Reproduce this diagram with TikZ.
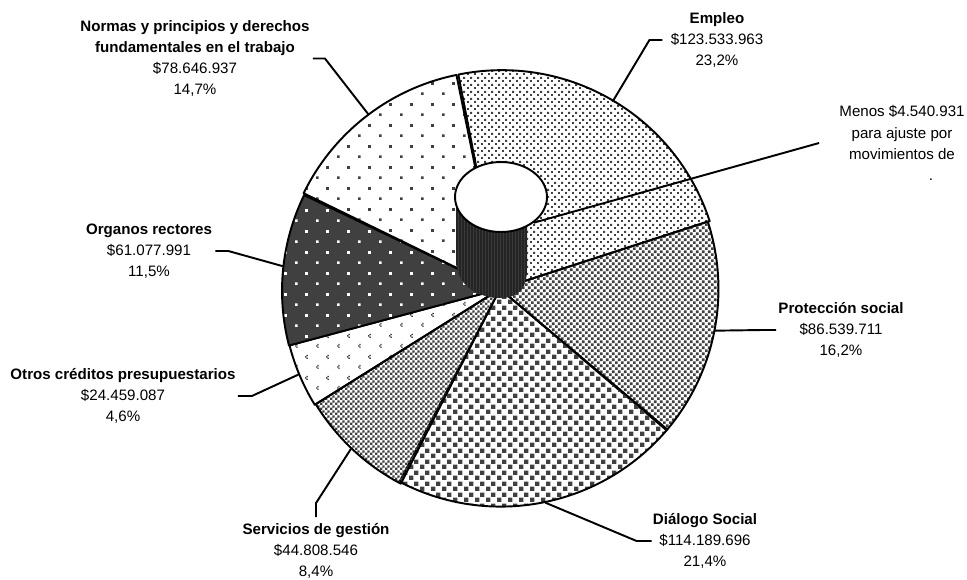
\documentclass[tikz,border=0pt]{standalone}
\usepackage{fontspec}
\setmainfont{Liberation Sans}
\usetikzlibrary{patterns,shapes.geometric}

\definecolor{gristrama}{HTML}{404040}
\definecolor{griscilindro}{HTML}{242424}
\definecolor{grisvetas}{HTML}{707070}

\pgfdeclarepatternformonly{puntos empleo}{\pgfpointorigin}{\pgfqpoint{3.8pt}{3.8pt}}{\pgfqpoint{3.8pt}{3.8pt}}{%
	\pgfpathrectangle{\pgfpointorigin}{\pgfqpoint{1.1pt}{1.1pt}}%
	\pgfpathrectangle{\pgfqpoint{1.9pt}{1.9pt}}{\pgfqpoint{1.1pt}{1.1pt}}%
	\pgfusepath{fill}}
\pgfdeclarepatternformonly{puntos ralos}{\pgfpointorigin}{\pgfqpoint{12pt}{12pt}}{\pgfqpoint{12pt}{12pt}}{%
	\pgfpathrectangle{\pgfpointorigin}{\pgfqpoint{1.6pt}{1.6pt}}%
	\pgfpathrectangle{\pgfqpoint{6pt}{6pt}}{\pgfqpoint{1.6pt}{1.6pt}}%
	\pgfusepath{fill}}
\pgfdeclarepatternformonly{marcas otros}{\pgfpointorigin}{\pgfqpoint{12pt}{12pt}}{\pgfqpoint{12pt}{12pt}}{%
	\pgfpathrectangle{\pgfqpoint{0.8pt}{0pt}}{\pgfqpoint{0.8pt}{0.8pt}}%
	\pgfpathrectangle{\pgfqpoint{0pt}{0.8pt}}{\pgfqpoint{0.8pt}{0.8pt}}%
	\pgfpathrectangle{\pgfqpoint{0.8pt}{1.6pt}}{\pgfqpoint{0.8pt}{0.8pt}}%
	\pgfpathrectangle{\pgfqpoint{6.8pt}{6pt}}{\pgfqpoint{0.8pt}{0.8pt}}%
	\pgfpathrectangle{\pgfqpoint{6pt}{6.8pt}}{\pgfqpoint{0.8pt}{0.8pt}}%
	\pgfpathrectangle{\pgfqpoint{6.8pt}{7.6pt}}{\pgfqpoint{0.8pt}{0.8pt}}%
	\pgfusepath{fill}}
\pgfdeclarepatternformonly{damero fino}{\pgfpointorigin}{\pgfqpoint{3pt}{3pt}}{\pgfqpoint{3pt}{3pt}}{%
	\pgfpathrectangle{\pgfpointorigin}{\pgfqpoint{1.5pt}{1.5pt}}%
	\pgfpathrectangle{\pgfqpoint{1.5pt}{1.5pt}}{\pgfqpoint{1.5pt}{1.5pt}}%
	\pgfusepath{fill}}
\pgfdeclarepatternformonly{damero claro}{\pgfpointorigin}{\pgfqpoint{3.4pt}{3.4pt}}{\pgfqpoint{3.4pt}{3.4pt}}{%
	\pgfpathrectangle{\pgfpointorigin}{\pgfqpoint{1.45pt}{1.45pt}}%
	\pgfpathrectangle{\pgfqpoint{1.7pt}{1.7pt}}{\pgfqpoint{1.45pt}{1.45pt}}%
	\pgfusepath{fill}}
\pgfdeclarepatternformonly{cuadros dialogo}{\pgfpointorigin}{\pgfqpoint{6.3pt}{6.3pt}}{\pgfqpoint{6.3pt}{6.3pt}}{%
	\pgfpathrectangle{\pgfpointorigin}{\pgfqpoint{2.7pt}{2.7pt}}%
	\pgfpathrectangle{\pgfqpoint{3.15pt}{3.15pt}}{\pgfqpoint{2.7pt}{2.7pt}}%
	\pgfusepath{fill}}
\pgfdeclarepatternformonly{vetas cilindro}{\pgfpointorigin}{\pgfqpoint{1.8pt}{1pt}}{\pgfqpoint{1.8pt}{1pt}}{%
	\pgfpathrectangle{\pgfpointorigin}{\pgfqpoint{0.35pt}{1pt}}%
	\pgfusepath{fill}}

\tikzset{
	sector/.style={draw=black, line width=1.1pt, line join=round},
	guia/.style={line width=1.1pt},
	rotulo/.style={align=center, inner sep=0pt, font=\fontsize{8.6}{12}\selectfont}
}

\begin{document}
\begin{tikzpicture}[x=0.02cm, y=0.02cm]
	\useasboundingbox (0,0) rectangle (967,-579);
	\node [circle, minimum size=8.74cm, inner sep=0pt, outer sep=0pt] (pie) at (500,-289) {};
% SECTORES
	\draw [sector, pattern=puntos empleo, pattern color=gristrama] (pie.center) -- (pie.101.5) arc [start angle=101.5, end angle=18, radius=4.37cm] -- cycle;
	\draw [sector, pattern=damero claro, pattern color=gristrama] (pie.center) -- (pie.18) arc [start angle=18, end angle=-40.3, radius=4.37cm] -- cycle;
	\draw [sector, pattern=cuadros dialogo, pattern color=gristrama] (pie.center) -- (pie.-40.3) arc [start angle=-40.3, end angle=-117.6, radius=4.37cm] -- cycle;
	\draw [sector, pattern=damero fino, pattern color=gristrama] (pie.center) -- (pie.-117.6) arc [start angle=-117.6, end angle=-148.5, radius=4.37cm] -- cycle;
	\draw [sector, pattern=marcas otros, pattern color=gristrama] (pie.center) -- (pie.-148.5) arc [start angle=-148.5, end angle=-165.5, radius=4.37cm] -- cycle;
	\draw [sector, preaction={fill=gristrama}, pattern=puntos ralos, pattern color=white] (pie.center) -- (pie.-165.5) arc [start angle=-165.5, end angle=-206, radius=4.37cm] -- cycle;
	\draw [sector, pattern=puntos ralos, pattern color=gristrama] (pie.center) -- (pie.154) arc [start angle=154, end angle=101.5, radius=4.37cm] -- cycle;
% CILINDRO
	\path [preaction={fill=griscilindro}, pattern=vetas cilindro, pattern color=grisvetas] (456,-197) -- (456,-264) .. controls (460,-290) and (482,-298) .. (502,-298) .. controls (520,-297) and (527,-288) .. (527,-268) -- (527,-210) -- cycle;
	\node [ellipse, draw, fill=white, line width=1.1pt, minimum width=1.84cm, minimum height=1.4cm, inner sep=0pt] (cyltop) at (501,-197) {};
% ETIQUETAS
	\node [rotulo] (empleo) at (717,-40) {\textbf{Empleo}\\\$123.533.963\\23,2\%};
	\node [rotulo] (normas) at (195,-58.5) {\textbf{Normas y principios y derechos}\\\textbf{fundamentales en el trabajo}\\\$78.646.937\\14,7\%};
	\node [rotulo] (organos) at (149,-251) {\textbf{Organos rectores}\\\$61.077.991\\11,5\%};
	\node [rotulo] (otros) at (123,-396) {\textbf{Otros créditos presupuestarios}\\\$24.459.087\\4,6\%};
	\node [rotulo] (servicios) at (316,-551) {\textbf{Servicios de gestión}\\\$44.808.546\\8,4\%};
	\node [rotulo] (dialogo) at (705,-541) {\textbf{Diálogo Social}\\\$114.189.696\\21,4\%};
	\node [rotulo] (proteccion) at (841,-330) {\textbf{Protección social}\\\$86.539.711\\16,2\%};
	\node [rotulo] (menos) at (902,-143) {Menos \$4.540.931\\para ajuste por\\movimientos de\\\hspace*{1.16cm}.};
	\draw [guia] (pie.59.75) -- ([xshift=-0.42cm]empleo.west) -- ([xshift=-0.16cm]empleo.west);
	\draw [guia] (pie.127.75) -- ([xshift=0.3cm]normas.east) -- ([xshift=0.06cm]normas.east);
	\draw [guia] (pie.174.25) -- ([xshift=0.32cm]organos.east) -- ([xshift=0.06cm]organos.east);
	\draw [guia] (pie.-157) -- ([xshift=0.32cm]otros.east) -- ([xshift=0.04cm]otros.east);
	\draw [guia] (pie.-133) -- ([yshift=0.4cm]servicios.north) -- ([yshift=0.12cm]servicios.north);
	\draw [guia] (pie.-78.6) -- ([xshift=-0.32cm]dialogo.west) -- ([xshift=-0.02cm]dialogo.west);
	\draw [guia] (pie.-11.4) -- ([xshift=-0.32cm]proteccion.west) -- ([xshift=-0.04cm]proteccion.west);
	\draw [guia] (cyltop.-38) -- ([xshift=-0.4cm]menos.west);
\end{tikzpicture}
\end{document}
